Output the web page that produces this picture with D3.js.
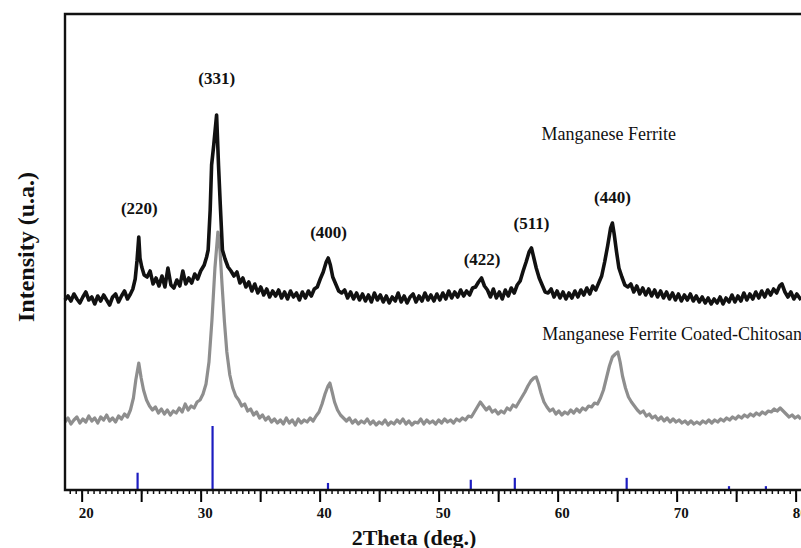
<!DOCTYPE html>
<html>
<head>
<meta charset="utf-8">
<script src="https://cdn.jsdelivr.net/npm/d3@7"></script>
<style>
  body { margin: 0; background: #fff; }
  text { font-family: "Liberation Serif", "Times New Roman", serif; }
</style>
</head>
<body>
<div id="chart"></div>
<script>

// Manganese ferrite pattern [2theta, intensity a.u.] (offset upward)
var ferrite = [
  [18.6,190],[18.85,194],[19.1,189],[19.35,196],[19.6,191],[19.85,187],[20.1,193],[20.35,198],[20.6,190],[20.85,193],
  [21.1,186],[21.35,194],[21.6,189],[21.85,195],[22.1,190],[22.35,185],[22.6,193],[22.85,196],[23.1,188],[23.35,194],
  [23.6,199],[23.85,191],[24.1,196],[24.3,201],[24.5,211],[24.65,229],[24.8,253],[24.9,232],[25.05,223],[25.25,215],
  [25.5,213],[25.75,219],[26.0,206],[26.25,212],[26.5,204],[26.75,214],[27.0,203],[27.25,222],[27.5,205],[27.75,202],
  [28.0,210],[28.25,204],[28.5,219],[28.75,206],[29.0,212],[29.25,207],[29.5,216],[29.75,211],[30.0,219],[30.3,225],
  [30.5,233],[30.63,240],[30.8,280],[30.92,325],[31.1,345],[31.34,375],[31.5,325],[31.65,285],[31.83,240],[32.05,231],
  [32.3,223],[32.55,219],[32.8,214],[33.05,218],[33.3,207],[33.55,212],[33.8,203],[34.05,208],[34.3,199],[34.55,206],
  [34.8,197],[35.05,203],[35.3,195],[35.55,201],[35.8,193],[36.05,199],[36.3,194],[36.55,200],[36.8,192],[37.05,198],
  [37.3,191],[37.55,199],[37.8,193],[38.05,197],[38.3,190],[38.55,198],[38.8,192],[39.05,199],[39.3,194],[39.55,201],
  [39.8,203],[40.05,211],[40.3,218],[40.55,228],[40.72,232],[40.9,225],[41.1,213],[41.35,206],[41.6,199],[41.85,197],
  [42.1,200],[42.35,192],[42.6,198],[42.85,191],[43.1,197],[43.35,190],[43.6,196],[43.85,189],[44.1,195],[44.35,188],
  [44.6,197],[44.85,190],[45.1,195],[45.35,188],[45.6,194],[45.85,187],[46.1,193],[46.35,189],[46.6,197],[46.85,188],
  [47.1,194],[47.35,187],[47.6,193],[47.85,196],[48.1,188],[48.35,194],[48.6,189],[48.85,197],[49.1,190],[49.35,195],
  [49.6,189],[49.85,196],[50.1,190],[50.35,197],[50.6,191],[50.85,199],[51.1,192],[51.35,198],[51.6,193],[51.85,200],
  [52.1,194],[52.35,199],[52.6,195],[52.85,202],[53.1,203],[53.35,208],[53.6,212],[53.85,204],[54.1,200],[54.35,193],
  [54.6,201],[54.85,192],[55.1,198],[55.35,191],[55.6,200],[55.85,194],[56.1,202],[56.35,197],[56.6,205],[56.85,209],
  [57.1,219],[57.35,228],[57.6,238],[57.8,242],[58.0,232],[58.2,222],[58.45,212],[58.7,205],[58.95,198],[59.2,197],
  [59.45,201],[59.7,193],[59.95,199],[60.2,192],[60.45,198],[60.7,191],[60.95,197],[61.2,192],[61.45,199],[61.7,193],
  [61.95,200],[62.2,195],[62.45,202],[62.7,196],[62.95,204],[63.2,200],[63.45,207],[63.7,214],[63.95,228],[64.2,244],
  [64.45,262],[64.6,267],[64.75,256],[64.95,238],[65.15,222],[65.4,213],[65.65,205],[65.9,203],[66.15,206],[66.4,198],
  [66.65,204],[66.9,196],[67.15,202],[67.4,195],[67.65,201],[67.9,194],[68.15,200],[68.4,193],[68.65,199],[68.9,192],
  [69.15,198],[69.4,191],[69.65,197],[69.9,190],[70.15,196],[70.4,189],[70.65,195],[70.9,190],[71.15,196],[71.4,189],
  [71.65,194],[71.9,188],[72.15,193],[72.4,187],[72.65,192],[72.9,186],[73.15,191],[73.4,187],[73.65,193],[73.9,186],
  [74.15,192],[74.4,188],[74.65,195],[74.9,188],[75.15,194],[75.4,189],[75.65,197],[75.9,190],[76.15,196],[76.4,191],
  [76.65,198],[76.9,192],[77.15,199],[77.4,193],[77.65,200],[77.9,195],[78.15,201],[78.4,197],[78.65,204],[78.85,206],
  [79.1,198],[79.35,193],[79.6,198],[79.85,191],[80.1,196],[80.45,190]
];

// Manganese ferrite coated with chitosan [2theta, intensity a.u.]
var coated = [
  [18.6,68],[18.85,72],[19.1,66],[19.35,70],[19.6,73],[19.85,67],[20.1,71],[20.35,68],[20.6,74],[20.85,69],
  [21.1,72],[21.35,67],[21.6,73],[21.85,70],[22.1,75],[22.35,69],[22.6,72],[22.85,68],[23.1,74],[23.35,71],
  [23.6,76],[23.85,73],[24.1,80],[24.35,92],[24.55,110],[24.8,127],[25.0,112],[25.2,100],[25.45,90],[25.7,84],
  [25.95,80],[26.2,83],[26.45,77],[26.7,81],[26.95,76],[27.2,80],[27.45,75],[27.7,79],[27.95,77],[28.2,82],
  [28.45,78],[28.7,86],[28.95,80],[29.2,84],[29.45,82],[29.7,88],[29.95,90],[30.2,96],[30.45,106],[30.7,128],
  [30.95,170],[31.2,222],[31.45,258],[31.6,245],[31.8,205],[32.0,168],[32.2,138],[32.45,115],[32.7,102],[32.95,94],
  [33.2,90],[33.45,84],[33.7,86],[33.95,79],[34.2,81],[34.45,75],[34.7,78],[34.95,72],[35.2,75],[35.45,70],
  [35.7,73],[35.95,68],[36.2,71],[36.45,67],[36.7,70],[36.95,66],[37.2,72],[37.45,67],[37.7,70],[37.95,65],
  [38.2,71],[38.45,67],[38.7,70],[38.95,68],[39.2,72],[39.45,69],[39.7,74],[39.95,78],[40.2,86],[40.45,96],
  [40.7,104],[40.86,107],[41.05,98],[41.25,88],[41.5,80],[41.75,75],[42.0,72],[42.25,69],[42.5,72],[42.75,67],
  [43.0,70],[43.25,66],[43.5,69],[43.75,67],[44.0,71],[44.25,66],[44.5,69],[44.75,65],[45.0,68],[45.25,66],
  [45.5,70],[45.75,65],[46.0,68],[46.25,66],[46.5,70],[46.75,67],[47.0,71],[47.25,66],[47.5,69],[47.75,65],
  [48.0,68],[48.25,67],[48.5,71],[48.75,66],[49.0,70],[49.25,67],[49.5,69],[49.75,66],[50.0,70],[50.25,67],
  [50.5,71],[50.75,68],[51.0,70],[51.25,67],[51.5,71],[51.75,69],[52.0,72],[52.25,70],[52.5,74],[52.75,73],
  [53.0,78],[53.25,83],[53.5,88],[53.75,84],[54.0,80],[54.25,83],[54.5,78],[54.75,80],[55.0,76],[55.25,79],
  [55.5,77],[55.75,82],[56.0,80],[56.25,85],[56.5,83],[56.75,88],[57.0,93],[57.25,98],[57.5,104],[57.75,109],
  [58.0,112],[58.2,113],[58.4,106],[58.6,97],[58.85,88],[59.1,83],[59.35,79],[59.6,81],[59.85,76],[60.1,79],
  [60.35,75],[60.6,78],[60.85,76],[61.1,80],[61.35,77],[61.6,81],[61.85,78],[62.1,82],[62.35,80],[62.6,84],
  [62.85,83],[63.1,87],[63.35,86],[63.6,92],[63.85,100],[64.1,112],[64.35,124],[64.6,133],[64.85,136],[65.06,138],
  [65.25,128],[65.45,114],[65.7,102],[65.95,93],[66.2,88],[66.45,84],[66.7,80],[66.95,77],[67.2,79],[67.45,74],
  [67.7,76],[67.95,72],[68.2,74],[68.45,70],[68.7,73],[68.95,69],[69.2,72],[69.45,68],[69.7,71],[69.95,68],
  [70.2,70],[70.45,67],[70.7,69],[70.95,66],[71.2,69],[71.45,66],[71.7,68],[71.95,66],[72.2,69],[72.45,67],
  [72.7,70],[72.95,67],[73.2,70],[73.45,68],[73.7,71],[73.95,69],[74.2,72],[74.45,70],[74.7,73],[74.95,71],
  [75.2,74],[75.45,72],[75.7,75],[75.95,73],[76.2,76],[76.45,74],[76.7,77],[76.95,75],[77.2,78],[77.45,76],
  [77.7,79],[77.95,78],[78.2,81],[78.45,79],[78.7,82],[78.95,79],[79.2,76],[79.45,73],[79.7,75],[79.95,72],
  [80.2,74],[80.45,71]
];

// reference (JCPDS) stick pattern
var refTheta = [24.7, 31.0, 40.7, 52.7, 56.4, 65.8, 74.4, 77.5];
var refIntensity = [27, 100, 11, 16, 19, 19, 6, 6];

// hkl labels
var hklLabels = ["(220)", "(331)", "(400)", "(422)", "(511)", "(440)"];
var hklTheta = [24.85, 31.35, 40.75, 53.65, 57.8, 64.6];
var hklLevel = [276, 406, 252, 225, 261, 287];

var seriesNames = ["Manganese Ferrite", "Manganese Ferrite Coated-Chitosan"];
var tickLabels = [20, 30, 40, 50, 60, 70, 80];

function drawChart() {
  var width = 801, height = 548;
  var plotLeft = 65, plotTop = 14, plotBottom = 490, plotRight = 801;

  var svg = d3.select("#chart").append("svg")
      .attr("width", width)
      .attr("height", height);

  var x = d3.scaleLinear()
      .domain([18.6, 80.45])
      .range([plotLeft, plotRight]);

  // one unit is one pixel above the axis
  var y = d3.scaleLinear()
      .domain([0, plotBottom - plotTop])
      .range([plotBottom, plotTop]);

  var yRef = d3.scaleLinear()
      .domain([0, 100])
      .range([plotBottom, plotBottom - 64]);

  // reference sticks
  svg.append("g").selectAll("line")
      .data(refTheta)
    .enter().append("line")
      .attr("x1", function(d) { return x(d); })
      .attr("x2", function(d) { return x(d); })
      .attr("y1", plotBottom)
      .attr("y2", function(d, i) { return yRef(refIntensity[i]); })
      .attr("stroke", "#1c1cc0")
      .attr("stroke-width", 2.2);

  var line = d3.line()
      .x(function(d) { return x(d[0]); })
      .y(function(d) { return y(d[1]); });

  // noisy scans look like thick bands in the scan
  svg.append("path")
      .datum(coated)
      .attr("d", line)
      .attr("fill", "none")
      .attr("stroke", "#8e8e8e")
      .attr("stroke-width", 3.2)
      .attr("stroke-linejoin", "round");

  svg.append("path")
      .datum(ferrite)
      .attr("d", line)
      .attr("fill", "none")
      .attr("stroke", "#111")
      .attr("stroke-width", 3.6)
      .attr("stroke-linejoin", "round");

  // x axis: major every 5, minor every 0.5
  var xAxis = d3.axisBottom(x)
      .tickValues(d3.range(20, 81, 5))
      .tickSize(12)
      .tickFormat(function(d) { return tickLabels.indexOf(d) > -1 ? d : ""; });

  var gx = svg.append("g")
      .attr("transform", "translate(0," + plotBottom + ")")
      .call(xAxis);

  gx.select(".domain").remove();
  gx.selectAll(".tick line").attr("stroke", "#000").attr("stroke-width", 2);
  gx.selectAll(".tick text")
      .attr("y", 17)
      .attr("dx", 4)
      .style("font-size", "15px")
      .style("font-weight", "bold")
      .style("font-family", "'Liberation Serif', 'Times New Roman', serif")
      .attr("fill", "#111");

  var minorAxis = d3.axisBottom(x)
      .tickValues(d3.range(19, 80.5, 0.5))
      .tickSize(4)
      .tickFormat("");

  var gm = svg.append("g")
      .attr("transform", "translate(0," + plotBottom + ")")
      .call(minorAxis);
  gm.select(".domain").remove();
  gm.selectAll(".tick line").attr("stroke", "#111").attr("stroke-width", 1.5);

  // frame
  svg.append("path")
      .attr("d", "M" + plotRight + "," + plotTop + "H" + plotLeft + "V" + plotBottom + "H" + plotRight)
      .attr("fill", "none")
      .attr("stroke", "#111")
      .attr("stroke-width", 2.4);

  // peak labels
  svg.append("g").selectAll("text")
      .data(hklLabels)
    .enter().append("text")
      .attr("x", function(d, i) { return x(hklTheta[i]); })
      .attr("y", function(d, i) { return y(hklLevel[i]); })
      .attr("text-anchor", "middle")
      .style("font-size", "17px")
      .style("font-weight", "bold")
      .attr("fill", "#111")
      .text(function(d) { return d; });

  // series names
  svg.append("text")
      .attr("x", x(64.3))
      .attr("y", y(350))
      .attr("text-anchor", "middle")
      .style("font-size", "18px")
      .attr("fill", "#111")
      .text(seriesNames[0]);

  svg.append("text")
      .attr("x", x(58.7))
      .attr("y", y(150))
      .style("font-size", "18px")
      .attr("fill", "#111")
      .text(seriesNames[1]);

  // axis titles
  svg.append("text")
      .attr("x", 414)
      .attr("y", 545)
      .attr("text-anchor", "middle")
      .style("font-size", "22px")
      .style("font-weight", "bold")
      .attr("fill", "#111")
      .text("2Theta (deg.)");

  svg.append("text")
      .attr("transform", "translate(34,247) rotate(-90)")
      .attr("text-anchor", "middle")
      .style("font-size", "24px")
      .style("font-weight", "bold")
      .attr("fill", "#111")
      .text("Intensity (u.a.)");
}

drawChart();

</script>
</body>
</html>
